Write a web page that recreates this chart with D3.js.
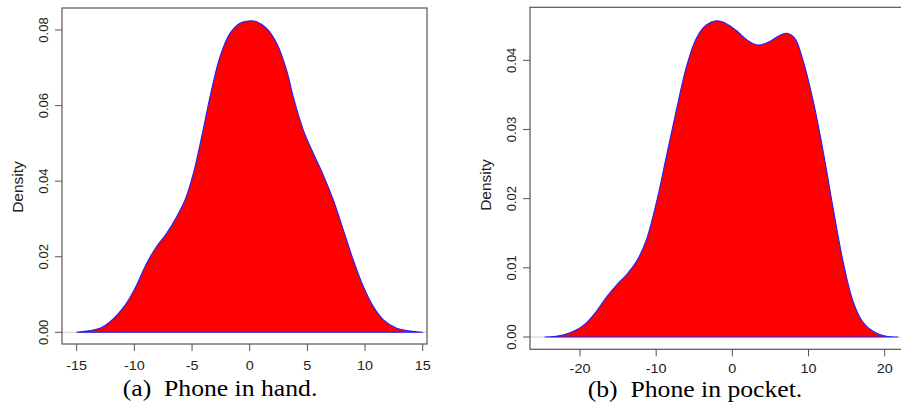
<!DOCTYPE html>
<html>
<head>
<meta charset="utf-8">
<script src="https://cdn.jsdelivr.net/npm/d3@7/dist/d3.min.js"></script>
<style>
  html, body { margin: 0; padding: 0; background: #fff; }
  svg { display: block; }
</style>
</head>
<body>
<svg id="chart" width="901" height="403"></svg>
<script>
// Kernel density estimate, phone held in hand (x: value, y: density)
const handX = [-15, -12.98, -12.1, -10.8, -9.95, -8.93, -8.07, -7.2, -6.33, -5.61, -4.89, -4.16, -3.44, -2.58, -1.71, -0.84, -0.12, 0.6, 1.47, 2.34, 3.2, 3.78, 4.65, 5.51, 6.38, 7.25, 8.12, 8.98, 9.85, 10.72, 11.59, 12.75, 15];
const handY = [0, 0.00106, 0.0028, 0.0072, 0.0116, 0.0183, 0.0227, 0.0262, 0.0306, 0.035, 0.042, 0.0518, 0.0623, 0.0729, 0.0791, 0.0818, 0.0824, 0.0822, 0.0804, 0.0765, 0.0694, 0.0623, 0.0535, 0.0474, 0.0416, 0.035, 0.0271, 0.0191, 0.0121, 0.0068, 0.0033, 0.0011, 0];

// Kernel density estimate, phone carried in pocket
const pocketX = [-24.6, -22.2, -20.5, -19.2, -17.85, -16.5, -15.2, -13.9, -12.6, -11.3, -10.0, -8.66, -7.35, -6.04, -4.72, -3.41, -2.1, -0.79, 0.52, 1.84, 3.37, 4.9, 6.2, 7.1, 8.18, 9.27, 10.6, 11.9, 13.2, 14.5, 15.8, 17.1, 18.5, 20.2, 21.7];
const pocketY = [0, 0.0003, 0.001, 0.002, 0.0037, 0.0058, 0.0075, 0.009, 0.0109, 0.014, 0.0193, 0.0261, 0.0328, 0.039, 0.0432, 0.0451, 0.0457, 0.0453, 0.0443, 0.043, 0.0422, 0.0427, 0.0436, 0.0439, 0.0432, 0.04, 0.0342, 0.027, 0.0188, 0.0111, 0.0053, 0.0022, 0.0008, 0.0001, 0];

const handXTicks = [-15, -10, -5, 0, 5, 10, 15];
const handYTicks = [0, 0.02, 0.04, 0.06, 0.08];
const pocketXTicks = [-20, -10, 0, 10, 20];
const pocketYTicks = [0, 0.01, 0.02, 0.03, 0.04];

const captions = ["(a)\u2002Phone in hand.", "(b)\u2002Phone in pocket."];
const yLabel = "Density";

const svg = d3.select("#chart");
const sans = "Liberation Sans, Arial, Helvetica, sans-serif";
const serif = "Liberation Serif, Times New Roman, Times, serif";

// plain hyphen-minus labels, as R prints them
const fmtX = d => String(d);
const fmtY = d => d.toFixed(2);

const panels = [
  {
    xs: handX, ys: handY, xTicks: handXTicks, yTicks: handYTicks,
    xDom: [-15, 15], xRange: [76.7, 422.7],
    yDom: [0, 0.08], yRange: [332.3, 30],
    box: { left: 62, top: 8, right: 427, bottom: 344 },
    ylabX: 18, ylabY: 187, ytickX: 43, xtickY: 365.5,
    caption: captions[0], capX: 220, capY: 396
  },
  {
    xs: pocketX, ys: pocketY, xTicks: pocketXTicks, yTicks: pocketYTicks,
    xDom: [-20, 20], xRange: [580, 884.7],
    yDom: [0, 0.04], yRange: [337, 60.3],
    box: { left: 530, top: 7.3, right: 912, bottom: 349.3 },
    ylabX: 486, ylabY: 185, ytickX: 511.5, xtickY: 368.5,
    caption: captions[1], capX: 695, capY: 397
  }
];

panels.forEach(p => {
  const x = d3.scaleLinear().domain(p.xDom).range(p.xRange);
  const y = d3.scaleLinear().domain(p.yDom).range(p.yRange);
  const g = svg.append("g");
  const b = p.box;

  // zero line across the plot region
  g.append("line")
    .attr("x1", b.left).attr("x2", b.right)
    .attr("y1", y(0)).attr("y2", y(0))
    .attr("stroke", "#d0d0d0").attr("stroke-width", 1);

  // filled density polygon with blue outline
  const pts = p.xs.map((v, i) => [v, p.ys[i]]);
  const line = d3.line()
    .x(d => x(d[0])).y(d => y(d[1]))
    .curve(d3.curveCatmullRom.alpha(0.5));
  g.append("path")
    .attr("d", line(pts) + "Z")
    .attr("fill", "#ff0000")
    .attr("stroke", "#2020ff")
    .attr("stroke-width", 1.1)
    .attr("stroke-linejoin", "round");

  // plot box
  g.append("rect")
    .attr("x", b.left).attr("y", b.top)
    .attr("width", b.right - b.left).attr("height", b.bottom - b.top)
    .attr("fill", "none").attr("stroke", "#555").attr("stroke-width", 1.2);

  // x axis ticks
  const xa = g.append("g");
  xa.selectAll("line").data(p.xTicks).join("line")
    .attr("x1", d => x(d)).attr("x2", d => x(d))
    .attr("y1", b.bottom).attr("y2", b.bottom + 7)
    .attr("stroke", "#555").attr("stroke-width", 1);
  xa.selectAll("text").data(p.xTicks).join("text")
    .attr("transform", d => `translate(${x(d)},${p.xtickY}) scale(1.2,1)`)
    .attr("text-anchor", "middle").attr("dy", "0.35em")
    .attr("font-family", sans)
    .attr("font-size", 12).attr("fill", "#222")
    .text(fmtX);

  // y axis ticks
  const ya = g.append("g");
  ya.selectAll("line").data(p.yTicks).join("line")
    .attr("x1", b.left - 7).attr("x2", b.left)
    .attr("y1", d => y(d)).attr("y2", d => y(d))
    .attr("stroke", "#555").attr("stroke-width", 1);
  ya.selectAll("text").data(p.yTicks).join("text")
    .attr("transform", d => `translate(${p.ytickX},${y(d)}) rotate(-90)`)
    .attr("text-anchor", "middle").attr("dy", "0.35em")
    .attr("font-family", sans)
    .attr("font-size", 13).attr("fill", "#222")
    .text(fmtY);

  // y axis title
  g.append("text")
    .attr("transform", `translate(${p.ylabX},${p.ylabY}) rotate(-90)`)
    .attr("text-anchor", "middle").attr("dy", "0.35em")
    .attr("font-family", sans)
    .attr("font-size", 15.5).attr("fill", "#222")
    .text(yLabel);

  // caption
  g.append("text")
    .attr("transform", `translate(${p.capX},${p.capY}) scale(1.07,1)`)
    .attr("text-anchor", "middle")
    .attr("font-family", serif)
    .attr("font-size", 24).attr("fill", "#000")
    .text(p.caption);
});
</script>
</body>
</html>
